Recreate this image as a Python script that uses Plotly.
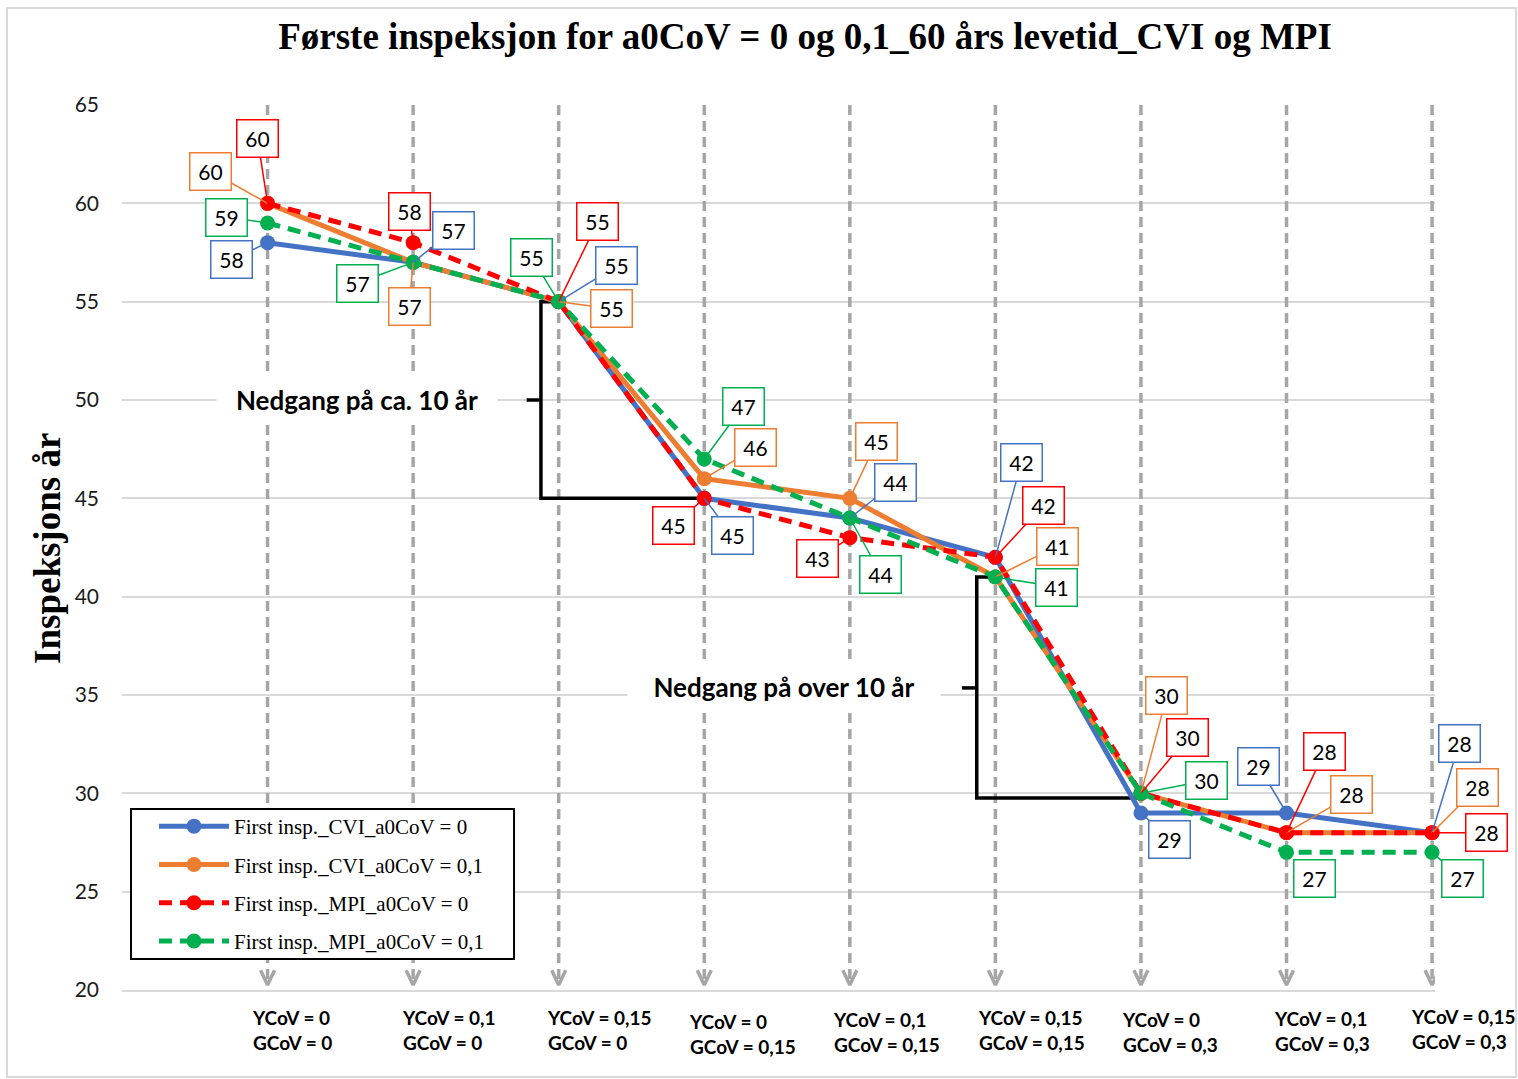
import plotly.graph_objects as go

# ---------------- data ----------------
categories = [1, 2, 3, 4, 5, 6, 7, 8, 9]
tick_ycov = ["0", "0,1", "0,15", "0", "0,1", "0,15", "0", "0,1", "0,15"]
tick_gcov = ["0", "0", "0", "0,15", "0,15", "0,15", "0,3", "0,3", "0,3"]

cvi_0 = [58, 57, 55, 45, 44, 42, 29, 29, 28]
cvi_01 = [60, 57, 55, 46, 45, 41, 30, 28, 28]
mpi_0 = [60, 58, 55, 45, 43, 42, 30, 28, 28]
mpi_01 = [59, 57, 55, 47, 44, 41, 30, 27, 27]

series_names = [
    "First insp._CVI_a0CoV = 0",
    "First insp._CVI_a0CoV = 0,1",
    "First insp._MPI_a0CoV = 0",
    "First insp._MPI_a0CoV = 0,1",
]

# ---------------- styles / label placement (pixel offsets) ----------------
colors = ["#4472C4", "#ED7D31", "#FF0000", "#00B050"]
dashes = ["solid", "solid", "13px,8px", "13px,8px"]
label_offsets = [
    [(-36, 17), (40, -32), (58, -36), (28, 37), (46, -36), (26, -95), (29, 26), (-28, -47), (27, -89)],
    [(-57, -32), (-4, 44), (53, 7), (51, -31), (27, -57), (62, -31), (26, -98), (65, -38), (45, -45)],
    [(-10, -65), (-4, -31), (39, -80), (-31, 27), (-32, 21), (48, -52), (47, -56), (38, -81), (54, 0)],
    [(-41, -6), (-56, 21), (-27, -44), (39, -53), (31, 56), (61, 10), (66, -13), (28, 26), (30, 26)],
]
tick_xshift = [-18, -13, -14, -17, -19, -19, -21, -15, -23]
tick_yshift = [-40, -40, -40, -44, -42, -40, -42, -41, -39]

LBL_FONT = "Lato, 'Open Sans', sans-serif"
SERIF = "'Liberation Serif', 'Times New Roman', serif"

# plot geometry (pixels)
PX_L, PX_R_CAT9, PX_T, PX_B = 122, 1432, 105, 990
X_MAX = 9.02
px_per_unit = (PX_R_CAT9 - PX_L) / 9
plot_w = px_per_unit * X_MAX
R_MARGIN = 1518 - PX_L - plot_w

fig = go.Figure()

# vertical dashed guide lines with arrow heads
Y_MIN, Y_MAX = 20, 65
for c in categories:
    fig.add_trace(go.Scatter(
        x=[c, c], y=[Y_MAX, 20.3], mode="lines",
        line=dict(color="#A6A6A6", width=3.5, dash="10px,6px"),
        showlegend=False, hoverinfo="skip"))
    fig.add_trace(go.Scatter(
        x=[c - 0.048, c, c + 0.048], y=[21.0, 20.25, 21.0], mode="lines",
        line=dict(color="#A6A6A6", width=3.5),
        showlegend=False, hoverinfo="skip"))

# braces
brace_lines = [
    ([3.0, 2.878, 2.878, 3.97], [55, 55, 45, 45]),
    ([2.878, 2.78], [50, 50]),
    ([6.0, 5.872, 5.872, 6.98], [41, 41, 29.76, 29.76]),
    ([5.872, 5.77], [35.36, 35.36]),
]
for bx, by in brace_lines:
    fig.add_trace(go.Scatter(x=bx, y=by, mode="lines",
                             line=dict(color="black", width=3.5),
                             showlegend=False, hoverinfo="skip"))

# data series
all_series = [cvi_0, cvi_01, mpi_0, mpi_01]
for i, (vals, name) in enumerate(zip(all_series, series_names)):
    fig.add_trace(go.Scatter(
        x=categories, y=vals, mode="lines+markers", name=name,
        legendgroup=name,
        line=dict(color=colors[i], width=5, dash=dashes[i]),
        marker=dict(color=colors[i], size=15, symbol="circle"),
        cliponaxis=False,
    ))

annotations = []
# data labels
for i, vals in enumerate(all_series):
    for c, v, (ox, oy) in zip(categories, vals, label_offsets[i]):
        annotations.append(dict(
            x=c, y=v, xref="x", yref="y", text=str(v),
            showarrow=True, arrowhead=0, arrowwidth=1.5, arrowcolor=colors[i],
            ax=ox, ay=oy, standoff=0,
            bordercolor=colors[i], borderwidth=1.5, borderpad=2,
            bgcolor="white", width=36, height=32,
            font=dict(family=LBL_FONT, size=21, color="black"),
        ))

# category labels
for c, yc, gc, xs, ys in zip(categories, tick_ycov, tick_gcov, tick_xshift, tick_yshift):
    annotations.append(dict(
        x=c, y=Y_MIN, xref="x", yref="y",
        text=f"<b>YCoV = {yc}<br>GCoV = {gc}</b>",
        showarrow=False, xanchor="left", yanchor="middle", align="left",
        xshift=xs, yshift=ys,
        font=dict(family=LBL_FONT, size=19, color="black"),
    ))

# brace texts
annotations.append(dict(
    x=1.614, y=50, xref="x", yref="y", text="<b>Nedgang på ca. 10 år</b>",
    showarrow=False, bgcolor="white", width=278, height=46,
    font=dict(family=LBL_FONT, size=26, color="black")))
annotations.append(dict(
    x=4.547, y=35.4, xref="x", yref="y", text="<b>Nedgang på over 10 år</b>",
    showarrow=False, bgcolor="white", width=310, height=46,
    font=dict(family=LBL_FONT, size=26, color="black")))

def pxx(px):
    return (px - PX_L) / plot_w

def pxy(py):
    return (PX_B - py) / (PX_B - PX_T)

# y-axis title
annotations.append(dict(
    x=pxx(47), y=pxy(548), xref="paper", yref="paper",
    text="<b>Inspeksjons år</b>", textangle=-90, showarrow=False,
    xanchor="center", yanchor="middle",
    font=dict(family=SERIF, size=37, color="black")))

fig.update_layout(
    width=1518, height=1079,
    margin=dict(l=PX_L, r=R_MARGIN, t=PX_T, b=1079 - PX_B),
    paper_bgcolor="white", plot_bgcolor="white",
    title=dict(
        text="<b>Første inspeksjon for a0CoV = 0 og 0,1_60 års levetid_CVI og MPI</b>",
        x=805 / 1518, xanchor="center", xref="container",
        y=1 - 36 / 1079, yanchor="middle", yref="container",
        font=dict(family=SERIF, size=37, color="black")),
    xaxis=dict(range=[0, X_MAX], showgrid=False, zeroline=False,
               showticklabels=False, ticks="",
               showline=True, linecolor="#D9D9D9", linewidth=2, mirror=False),
    yaxis=dict(range=[Y_MIN, Y_MAX], dtick=5, showgrid=True, gridcolor="#D9D9D9",
               gridwidth=2, zeroline=False, showline=False, ticks="",
               ticklabelstandoff=22,
               tickfont=dict(family=LBL_FONT, size=21, color="#1a1a1a")),
    legend=dict(
        x=pxx(154), y=pxy(806), xanchor="left", yanchor="top",
        borderwidth=0, bgcolor="rgba(0,0,0,0)",
        font=dict(family=SERIF, size=21, color="black"),
        itemwidth=70, traceorder="grouped", tracegroupgap=8),
    annotations=annotations,
    shapes=[
        dict(type="rect", xref="paper", yref="paper",
             x0=pxx(7), x1=pxx(1516), y0=pxy(1077), y1=pxy(8),
             line=dict(color="#D9D9D9", width=2), fillcolor="rgba(0,0,0,0)",
             layer="below"),
        dict(type="rect", xref="paper", yref="paper",
             x0=pxx(131), x1=pxx(514), y0=pxy(959), y1=pxy(809),
             line=dict(color="black", width=2), fillcolor="white",
             layer="above"),
    ],
)

fig.write_html("out.html")
